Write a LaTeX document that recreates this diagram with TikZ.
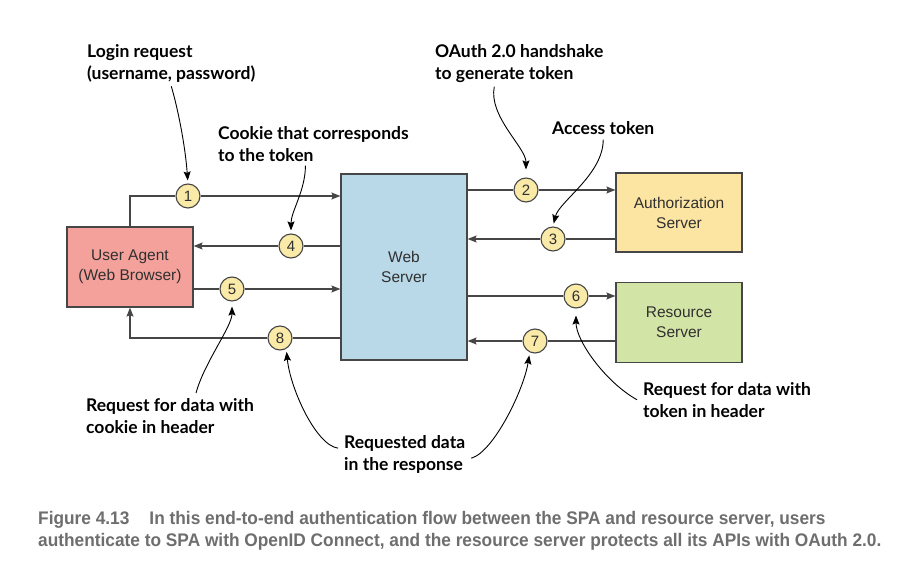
\documentclass[tikz,border=0pt]{standalone}
\usepackage{fontspec}
\setsansfont{Liberation Sans}
\newfontfamily\notefont{Lato}
\newfontfamily\capfont[FakeStretch=0.95]{Liberation Sans}
\usetikzlibrary{arrows.meta,positioning}

\definecolor{agentred}{HTML}{F4A19B}
\definecolor{webblue}{HTML}{B9D8E8}
\definecolor{authyellow}{HTML}{FCE5A2}
\definecolor{resgreen}{HTML}{D3E5A6}
\definecolor{numyellow}{HTML}{F9EAA8}
\definecolor{boxline}{HTML}{464646}
\definecolor{boxtext}{HTML}{303030}
\definecolor{capgray}{HTML}{6E6E6E}

\begin{document}
\begin{tikzpicture}[x=1pt,y=-1pt,>={Stealth[length=9pt,width=7pt,inset=1.5pt]},
    box/.style={draw=boxline,line width=1.2pt,minimum width=126pt,align=center,text=boxtext,font=\sffamily\fontsize{15.5}{20}\selectfont},
    num node/.style={circle,draw=boxline,fill=numyellow,line width=1.1pt,minimum size=24pt,inner sep=0pt,text=boxtext,font=\sffamily\fontsize{15}{15}\selectfont},
    note/.style={anchor=north west,align=left,inner sep=0pt,font=\notefont\bfseries\fontsize{17.5}{22}\selectfont},
    flow/.style={draw=boxline,line width=1.1pt},
    callout/.style={->,line width=0.9pt,shorten >=3pt}]
    \useasboundingbox[fill=white] (0,0) rectangle (904,580);

    \node[box,fill=agentred,minimum height=80pt] (ua) at (130,267) {User Agent\\(Web Browser)};
    \node[box,fill=webblue,minimum height=186pt] (ws) at (404,267) {Web\\Server};
    \node[box,fill=authyellow,minimum height=79pt] (as) at (679,212.5) {Authorization\\Server};
    \node[box,fill=resgreen,minimum height=80pt] (rs) [below=29pt of as] {Resource\\Server};

    \node[num node] (c1) at (188,196) {1};
    \node[num node] (c4) at (291,246) {4};
    \node[num node] (c5) at (232,289) {5};
    \node[num node] (c8) at (280,338) {8};
    \node[num node] (c2) at (526,190) {2};
    \node[num node] (c3) at (553,239) {3};
    \node[num node] (c6) at (576,296) {6};
    \node[num node] (c7) at (535,341) {7};

    \draw[flow] (ua.north) |- (c1);
    \draw[flow,->] (c1) -- (c1 -| ws.west);
    \draw[flow] (c4 -| ws.west) -- (c4);
    \draw[flow,->] (c4) -- (c4 -| ua.east);
    \draw[flow] (c5 -| ua.east) -- (c5);
    \draw[flow,->] (c5) -- (c5 -| ws.west);
    \draw[flow] (c8 -| ws.west) -- (c8);
    \draw[flow,->] (c8) -| (ua.south);
    \draw[flow] (c2 -| ws.east) -- (c2);
    \draw[flow,->] (c2) -- (c2 -| as.west);
    \draw[flow] (c3 -| as.west) -- (c3);
    \draw[flow,->] (c3) -- (c3 -| ws.east);
    \draw[flow] (c6 -| ws.east) -- (c6);
    \draw[flow,->] (c6) -- (c6 -| rs.west);
    \draw[flow] (c7 -| rs.west) -- (c7);
    \draw[flow,->] (c7) -- (c7 -| ws.east);

    \node[note] (login) at (87,44) {Login request\\(username, password)};
    \node[note] (cookie) at (218,126) {Cookie that corresponds\\to the token};
    \node[note] (oauth) at (435,44) {OAuth 2.0 handshake\\to generate token};
    \node[note] (access) at (552,121) {Access token};
    \node[note] (reqcookie) at (86,398) {Request for data with\\cookie in header};
    \node[note] (reqdata) at (344,435) {Requested data\\in the response};
    \node[note] (reqtoken) at (643,382) {Request for data with\\token in header};

    \draw[callout] ([yshift=-4pt]login.south) .. controls +(6,20) and +(-3,-40) .. (c1.north);
    \draw[callout] ([xshift=-8pt,yshift=-4pt]cookie.south) .. controls +(0,25) and +(0,-22) .. (c4.north);
    \draw[callout,shorten >=8pt] ([xshift=-25pt,yshift=-4pt]oauth.south) .. controls +(-6,30) and +(0,-30) .. (c2.north);
    \draw[callout] ([yshift=-5pt]access.south) .. controls +(0,35) and +(6,-25) .. (c3.north);
    \draw[callout,shorten >=5pt] ([xshift=26pt,yshift=5pt]reqcookie.north) .. controls +(8,-30) and +(0,25) .. (c5.south);
    \draw[callout] ([xshift=-6pt,yshift=6pt]reqdata.west) .. controls +(-22,-3) and +(4,40) .. (c8.-60);
    \draw[callout] ([xshift=6pt,yshift=-4pt]reqdata.east) .. controls +(22,-6) and +(-6,38) .. (c7.-115);
    \draw[callout,shorten >=7pt] ([xshift=-6pt]reqtoken.west) .. controls +(-32,-18) and +(0,32) .. (c6.south);

    \node[anchor=north west,align=left,inner sep=0pt,text=capgray,font=\capfont\bfseries\fontsize{18.2}{22}\selectfont] (caption) at (38,511)
        {Figure 4.13\hspace{20pt}In this end-to-end authentication flow between the SPA and resource server, users\\authenticate to SPA with OpenID Connect, and the resource server protects all its APIs with OAuth 2.0.};
\end{tikzpicture}
\end{document}
